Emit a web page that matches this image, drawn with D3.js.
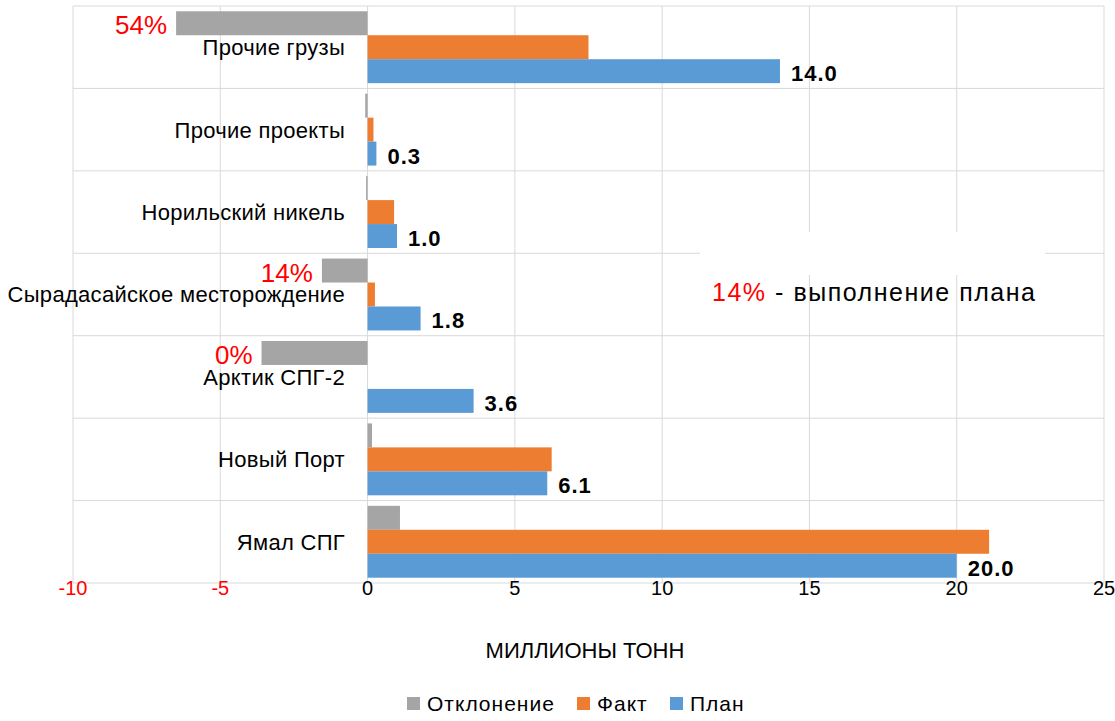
<!DOCTYPE html>
<html>
<head>
<meta charset="utf-8">
<script src="https://cdn.jsdelivr.net/npm/d3@7"></script>
<style>
body { margin: 0; background: #fff; }
</style>
</head>
<body>
<script>
// categories top to bottom
var categories = ["Прочие грузы", "Прочие проекты", "Норильский никель",
  "Сырадасайское месторождение", "Арктик СПГ-2", "Новый Порт", "Ямал СПГ"];
var series = ["Отклонение", "Факт", "План"];
var deviation = [-6.5, -0.08, -0.05, -1.55, -3.6, 0.15, 1.1];
var fact = [7.5, 0.2, 0.9, 0.25, 0, 6.25, 21.1];
var plan = [14.0, 0.3, 1.0, 1.8, 3.6, 6.1, 20.0];
var pctLabels = ["54%", "", "", "14%", "0%", "", ""];
var xTicks = [-10, -5, 0, 5, 10, 15, 20, 25];

(function(){
var colors = {"Отклонение": "#a5a5a5", "Факт": "#ed7d31", "План": "#5b9bd5"};
var W = 1115, H = 721;
var pLeft = 73, pRight = 1104, pTop = 6, pBottom = 583;
var sans = "'Liberation Sans', Arial, sans-serif";

var svg = d3.select("body").append("svg")
  .attr("width", W).attr("height", H);

var x = d3.scaleLinear().domain([-10, 25]).range([pLeft, pRight]);
var y = d3.scaleBand().domain(categories).range([pTop, pBottom]);
var sub = d3.scaleBand().domain(series).range([0, y.bandwidth()])
  .paddingInner(0).paddingOuter(0.22);

// grid
svg.append("g").selectAll("line").data(xTicks).enter().append("line")
  .attr("x1", function(d){ return x(d); }).attr("x2", function(d){ return x(d); })
  .attr("y1", pTop).attr("y2", pBottom)
  .attr("stroke", "#d9d9d9").attr("stroke-width", 1);
var hLines = categories.map(function(c){ return y(c); }).concat([pBottom]);
svg.append("g").selectAll("line").data(hLines).enter().append("line")
  .attr("x1", pLeft).attr("x2", pRight)
  .attr("y1", function(d){ return d; }).attr("y2", function(d){ return d; })
  .attr("stroke", "#d9d9d9").attr("stroke-width", 1);

// bars
var rows = categories.map(function(c, i){
  return {cat: c, vals: [deviation[i], fact[i], plan[i]], pct: pctLabels[i], plan: plan[i]};
});
var g = svg.append("g").selectAll("g").data(rows).enter().append("g")
  .attr("transform", function(d){ return "translate(0," + y(d.cat) + ")"; });

g.selectAll("rect").data(function(d){
  return d.vals.map(function(v, j){ return {s: series[j], v: v}; });
}).enter().append("rect")
  .attr("x", function(d){ return x(Math.min(0, d.v)); })
  .attr("width", function(d){ return Math.abs(x(d.v) - x(0)); })
  .attr("y", function(d){ return sub(d.s); })
  .attr("height", sub.bandwidth())
  .attr("fill", function(d){ return colors[d.s]; });

// category labels
g.append("text")
  .attr("x", 345).attr("y", y.bandwidth() / 2 + 8)
  .attr("text-anchor", "end")
  .style("font-family", sans).style("font-size", "22px").style("letter-spacing", "0.3px")
  .attr("fill", "#000")
  .text(function(d){ return d.cat; });

// plan value labels
g.append("text")
  .attr("x", function(d){ return x(d.plan) + 11; })
  .attr("y", sub("План") + sub.bandwidth() - 2)
  .style("font-family", sans).style("font-weight", "bold")
  .style("font-size", "22px").style("letter-spacing", "1px").attr("fill", "#000")
  .text(function(d){ return d.plan.toFixed(1); });

// percent labels
g.filter(function(d){ return d.pct; }).append("text")
  .attr("x", function(d){ return x(d.vals[0]) - 9; })
  .attr("y", sub("Отклонение") + sub.bandwidth() - 1)
  .attr("text-anchor", "end")
  .style("font-family", sans).style("font-size", "26px").attr("fill", "#ff0000")
  .text(function(d){ return d.pct; });

// x tick labels
svg.append("g").selectAll("text").data(xTicks).enter().append("text")
  .attr("x", function(d){ return x(d); }).attr("y", 595)
  .attr("text-anchor", "middle")
  .style("font-family", sans).style("font-size", "20px")
  .attr("fill", function(d){ return d < 0 ? "#ff0000" : "#000"; })
  .text(function(d){ return d; });

svg.append("text").attr("x", 585).attr("y", 658).attr("text-anchor", "middle")
  .style("font-family", sans).style("font-size", "22px")
  .text("МИЛЛИОНЫ ТОНН");

// annotation box
svg.append("rect").attr("x", 700).attr("y", 232).attr("width", 345).attr("height", 43)
  .attr("fill", "#fff");
var ann = svg.append("text").attr("x", 712).attr("y", 301)
  .attr("textLength", 323).attr("lengthAdjust", "spacing")
  .style("font-family", sans).style("font-size", "25px");
ann.append("tspan").attr("fill", "#ff0000").text("14%");
ann.append("tspan").attr("fill", "#000").text(" - выполнение плана");

// legend
var legX = [407, 577, 670];
var leg = svg.append("g").selectAll("g").data(series).enter().append("g")
  .attr("transform", function(d, i){ return "translate(" + legX[i] + ",697)"; });
leg.append("rect").attr("width", 13).attr("height", 13)
  .attr("fill", function(d){ return colors[d]; });
leg.append("text").attr("x", 20).attr("y", 14)
  .style("font-family", sans).style("font-size", "21px").style("letter-spacing", "1px")
  .text(function(d){ return d; });
})();
</script>
</body>
</html>
